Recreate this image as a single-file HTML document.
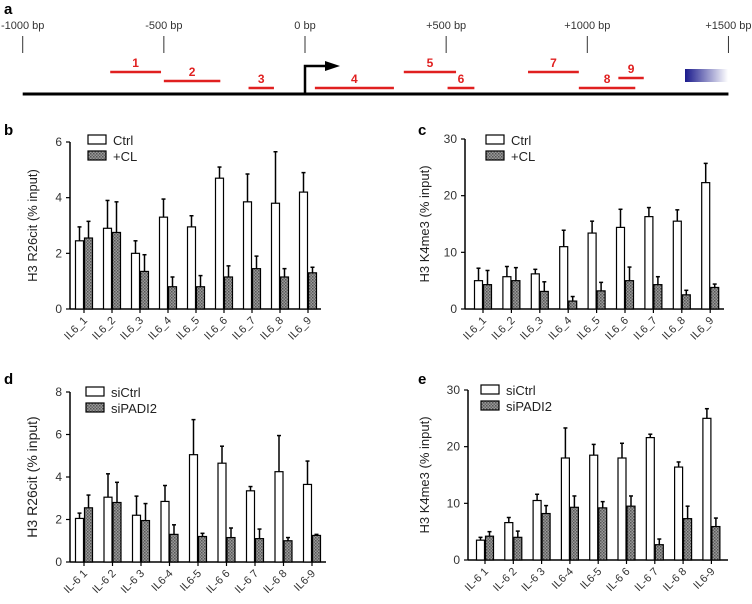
<!DOCTYPE html>
<html><head><meta charset="utf-8"><style>
body{margin:0;background:#fff;}
svg{display:block;font-family:"Liberation Sans",Arial,sans-serif;}
</style></head><body>
<svg id="fig" width="752" height="604" viewBox="0 0 752 604">
<defs>
<pattern id="hatch" width="3" height="3" patternUnits="userSpaceOnUse">
<rect width="3" height="3" fill="#9a9a9a"/><rect width="1.5" height="1.5" fill="#555"/><rect x="1.5" y="1.5" width="1.5" height="1.5" fill="#666"/>
</pattern>
<linearGradient id="blueg" x1="0" x2="1"><stop offset="0" stop-color="#1a1a8c"/><stop offset="1" stop-color="#1a1a8c" stop-opacity="0"/></linearGradient>
</defs>
<g id="panelA">
<text x="4" y="14" font-size="15" font-weight="bold">a</text>
</g>
</svg>
<script>
const svgNS="http://www.w3.org/2000/svg";
const fig=document.getElementById('fig');
const categoriesB=["IL6_1","IL6_2","IL6_3","IL6_4","IL6_5","IL6_6","IL6_7","IL6_8","IL6_9"];
const categoriesD=["IL-6 1","IL-6 2","IL-6 3","IL6-4","IL6-5","IL-6 6","IL-6 7","IL-6 8","IL6-9"];
const bCtrl=[2.45,2.9,2.0,3.3,2.95,4.7,3.85,3.8,4.2];
const bCtrlErr=[2.95,3.9,2.45,3.95,3.35,5.1,4.85,5.65,4.9];
const bCL=[2.55,2.75,1.35,0.8,0.8,1.15,1.45,1.15,1.3];
const bCLErr=[3.15,3.85,1.95,1.15,1.2,1.55,1.9,1.45,1.5];
const cCtrl=[5,5.7,6.2,11,13.4,14.4,16.3,15.5,22.3];
const cCtrlErr=[7.2,7.5,7,13.9,15.5,17.6,17.9,17.5,25.7];
const cCL=[4.3,5,3.1,1.4,3.2,5,4.3,2.5,3.8];
const cCLErr=[6.8,7.3,4.8,2.2,4.7,7.4,5.7,3.3,4.4];
const dCtrl=[2.05,3.05,2.2,2.85,5.05,4.65,3.35,4.25,3.65];
const dCtrlErr=[2.3,4.15,3.1,3.6,6.7,5.45,3.55,5.95,4.75];
const dSi=[2.55,2.8,1.95,1.3,1.2,1.15,1.1,1.0,1.25];
const dSiErr=[3.15,3.75,2.75,1.75,1.35,1.6,1.55,1.15,1.3];
const eCtrl=[3.5,6.6,10.5,18,18.5,18,21.6,16.4,25];
const eCtrlErr=[4,7.5,11.6,23.3,20.4,20.6,22.2,17.3,26.7];
const eSi=[4.2,4,8.2,9.3,9.2,9.5,2.7,7.3,5.9];
const eSiErr=[5,5.1,9.6,11.3,10.3,11.3,3.7,9.5,7.4];
const ticksB=[0,2,4,6], ticksC=[0,10,20,30], ticksD=[0,2,4,6,8];
const mapTickLabels=["-1000 bp","-500 bp","0 bp","+500 bp","+1000 bp","+1500 bp"];
const mapTickBp=[-1000,-500,0,500,1000,1500];
const ampliconNames=["1","2","3","4","5","6","7","8","9"];
const ampliconStart=[-690,-500,-200,35,350,505,790,970,1110];
const ampliconEnd=[-510,-300,-110,315,535,600,970,1170,1200];
const ampliconRow=[0,1,2,2,0,2,0,2,3];

function el(tag,attrs,parent){const e=document.createElementNS(svgNS,tag);for(const k in attrs)e.setAttribute(k,attrs[k]);(parent||fig).appendChild(e);return e;}

// panel a
const pa=document.getElementById('panelA');
const bx=bp=>305+bp*0.2823;
el('line',{x1:bx(-1000),x2:bx(1500),y1:94,y2:94,stroke:'#000','stroke-width':3},pa);
mapTickBp.forEach((bp,i)=>{
 const l=el('line',{x1:bx(bp),x2:bx(bp),y1:36,y2:53,stroke:'#333','stroke-width':1},pa);
 
 
 const t=el('text',{x:bx(bp),y:29,'font-size':11,'text-anchor':'middle',fill:'#333'},pa);
 t.textContent=mapTickLabels[i];
 
 
});
const rowY=[72,81,88,78];
ampliconNames.forEach((n,i)=>{
 const x1=bx(ampliconStart[i]),x2=bx(ampliconEnd[i]),y=rowY[ampliconRow[i]];
 const l=el('line',{x1:x1,x2:x2,y1:y,y2:y,stroke:'#e02020','stroke-width':2.5},pa);
 
 
 const t=el('text',{x:(x1+x2)/2,y:y-5,'font-size':12,'font-weight':'bold','text-anchor':'middle',fill:'#e02020'},pa);
 t.textContent=n;
 
 
});
const arr=el('path',{d:'M305,94 V66 H327',fill:'none',stroke:'#000','stroke-width':2.5},pa);


el('path',{d:'M325,61 L340,66 L325,71 Z',fill:'#000'},pa);
const gr=el('rect',{x:685,y:69,width:43,height:13,fill:'url(#blueg)'},pa);



function panel(cfg){
 const g=el('g',{});
 
 
 const yS=v=>cfg.y0-(v/cfg.max)*(cfg.y0-cfg.yTop);
 const t=el('text',{x:cfg.lx,y:cfg.ly,'font-size':15,'font-weight':'bold'},g);t.textContent=cfg.id;
 
 
 el('line',{x1:cfg.ax,x2:cfg.ax,y1:cfg.yTop,y2:cfg.y0,stroke:'#000','stroke-width':1.5},g);
 el('line',{x1:cfg.ax,x2:cfg.axEnd,y1:cfg.y0,y2:cfg.y0,stroke:'#000','stroke-width':1.5},g);
 cfg.ticks.forEach(v=>{
  el('line',{x1:cfg.ax-4,x2:cfg.ax,y1:yS(v),y2:yS(v),stroke:'#000','stroke-width':1.2},g);
  const tl=el('text',{x:cfg.ax-8,y:yS(v)+4,'font-size':12,'text-anchor':'end',fill:'#333'},g);tl.textContent=v;
  
  
 });
 const yl=el('text',{transform:`translate(${cfg.ylx},${(cfg.yTop+cfg.y0)/2}) rotate(-90)`,'font-size':cfg.ylfs,'text-anchor':'middle',fill:'#222'},g);
 yl.textContent=cfg.ylabel;
 
 
 const bw=8;
 cfg.cats.forEach((c,i)=>{
  const x=cfg.t0+i*cfg.step;
  el('line',{x1:x,x2:x,y1:cfg.y0,y2:cfg.y0+4,stroke:'#000','stroke-width':1.2},g);
  const xl=el('text',{transform:`translate(${x+4},${cfg.y0+12}) rotate(-45)`,'font-size':11,'text-anchor':'end',fill:'#333'},g);
  xl.textContent=c;
  
  
  [[cfg.s1,cfg.e1,x-bw-0.5,'#fff','ctrl'],[cfg.s2,cfg.e2,x+0.5,'url(#hatch)','treated']].forEach(([s,e,bxp,fill,nm])=>{
   const cx=bxp+bw/2;
   el('line',{x1:cx,x2:cx,y1:yS(e[i]),y2:yS(s[i]),stroke:'#000','stroke-width':1.5},g);
   el('line',{x1:cx-2,x2:cx+2,y1:yS(e[i]),y2:yS(e[i]),stroke:'#000','stroke-width':1.5},g);
   const r=el('rect',{x:bxp,y:yS(s[i]),width:bw,height:yS(0)-yS(s[i]),fill:fill,stroke:'#000','stroke-width':1.2},g);
   
   
  });
 });
 [[cfg.leg1,'#fff',0],[cfg.leg2,'url(#hatch)',1]].forEach(([txt,fill,k])=>{
  const y=cfg.legY+k*16;
  const lb=el('rect',{x:cfg.legX,y:y-5,width:18,height:9,fill:fill,stroke:'#000','stroke-width':1.2},g);
  
  
  const lt=el('text',{x:cfg.legX+25,y:y+5,'font-size':13,fill:'#222'},g);lt.textContent=txt;
  
  
 });
}
panel({id:'b',lx:4,ly:135,ax:70,axEnd:321,yTop:142,y0:309,max:6,ticks:ticksB,t0:84,step:28,cats:categoriesB,s1:bCtrl,e1:bCtrlErr,s2:bCL,e2:bCLErr,ylabel:'H3 R26cit (% input)',ylx:37,ylfs:13,leg1:'Ctrl',leg2:'+CL',legX:88,legY:140});
panel({id:'c',lx:418,ly:135,ax:465,axEnd:724,yTop:139,y0:309,max:30,ticks:ticksC,t0:483,step:28.4,cats:categoriesB,s1:cCtrl,e1:cCtrlErr,s2:cCL,e2:cCLErr,ylabel:'H3 K4me3  (% input)',ylx:429,ylfs:13,leg1:'Ctrl',leg2:'+CL',legX:486,legY:140});
panel({id:'d',lx:4,ly:384,ax:70,axEnd:326,yTop:392,y0:562,max:8,ticks:ticksD,t0:84,step:28.5,cats:categoriesD,s1:dCtrl,e1:dCtrlErr,s2:dSi,e2:dSiErr,ylabel:'H3 R26cit  (% input)',ylx:37,ylfs:14,leg1:'siCtrl',leg2:'siPADI2',legX:86,legY:392});
panel({id:'e',lx:418,ly:384,ax:468,axEnd:728,yTop:390,y0:560,max:30,ticks:ticksC,t0:485,step:28.3,cats:categoriesD,s1:eCtrl,e1:eCtrlErr,s2:eSi,e2:eSiErr,ylabel:'H3 K4me3  (% input)',ylx:429,ylfs:13,leg1:'siCtrl',leg2:'siPADI2',legX:481,legY:390});
</script>
</body></html>
